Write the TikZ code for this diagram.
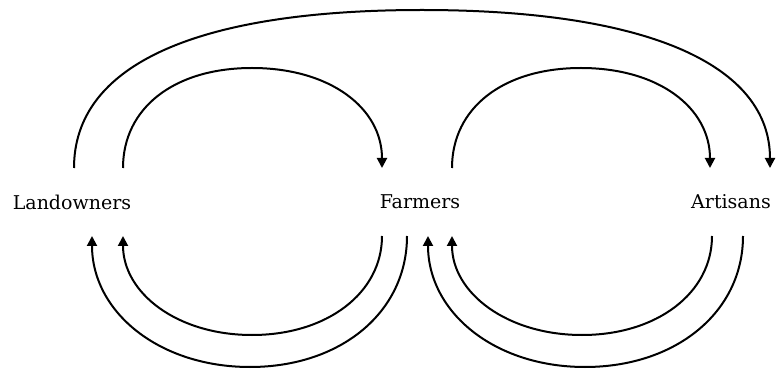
\documentclass[tikz,border=0pt]{standalone}
\usepackage{fontspec}
\setmainfont{DejaVu Serif}
\usetikzlibrary{arrows.meta}
\tikzset{
  lbl/.style={font=\fontsize{19}{22}\selectfont, inner sep=0pt},
  flow/.style={line width=2pt, -{Triangle[length=10pt,width=10pt]}},
}
\begin{document}
\begin{tikzpicture}[x=1pt,y=-1pt]
\useasboundingbox (0,0) rectangle (776,371);
\node[lbl] (L) at (72,202) {Landowners};
\node[lbl] (F) at (420,202) {Farmers};
\node[lbl] (A) at (731,202) {Artisans};
% top endpoints
\coordinate (l1) at (74,168);
\coordinate (l2) at (123,168);
\coordinate (f1) at (382,168);
\coordinate (f2) at (452,168);
\coordinate (a1) at (710,168);
\coordinate (a2) at (770,168);
\coordinate (tbig) at (422,10);
\coordinate (tlf) at (252,68);
\coordinate (tfa) at (581,68);
% bottom endpoints
\coordinate (bl1) at (92,236);
\coordinate (bl2) at (123,236);
\coordinate (bf1) at (382,236);
\coordinate (bf2) at (407,236);
\coordinate (bf3) at (428,236);
\coordinate (bf4) at (452,236);
\coordinate (ba1) at (712,236);
\coordinate (ba2) at (743,236);
\coordinate (bli) at (252,335);
\coordinate (blo) at (250,367);
\coordinate (bai) at (582,335);
\coordinate (bao) at (585,367);
% top arcs
\draw[flow] (l1) .. controls +(0,-103) and +(-226,0) .. (tbig) .. controls +(226,0) and +(0,-103) .. (a2);
\draw[flow] (l2) .. controls +(0,-60) and +(-78,0) .. (tlf) .. controls +(78,0) and +(0,-60) .. (f1);
\draw[flow] (f2) .. controls +(0,-60) and +(-78,0) .. (tfa) .. controls +(78,0) and +(0,-60) .. (a1);
% bottom arcs
\draw[flow] (bf1) .. controls +(0,57) and +(75,0) .. (bli) .. controls +(-75,0) and +(0,57) .. (bl2);
\draw[flow] (bf2) .. controls +(0,76) and +(91,0) .. (blo) .. controls +(-91,0) and +(0,76) .. (bl1);
\draw[flow] (ba1) .. controls +(0,57) and +(75,0) .. (bai) .. controls +(-75,0) and +(0,57) .. (bf4);
\draw[flow] (ba2) .. controls +(0,76) and +(91,0) .. (bao) .. controls +(-91,0) and +(0,76) .. (bf3);
\end{tikzpicture}
\end{document}
